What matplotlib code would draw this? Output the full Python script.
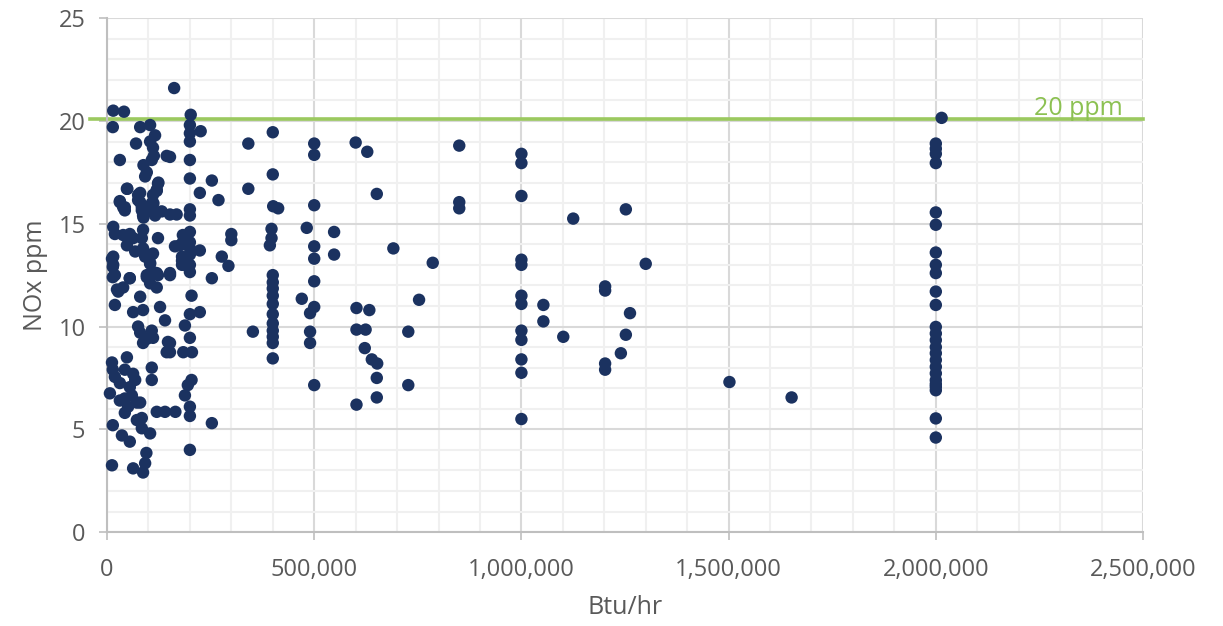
import matplotlib
matplotlib.use("Agg")
import matplotlib.pyplot as plt
from matplotlib.ticker import MultipleLocator, FuncFormatter

plt.rcParams['font.family'] = ['Open Sans', 'DejaVu Sans']

# Btu/hr (thousands) and NOx ppm
btu_k = [
    # 0 - 150k dense area
    15, 41, 14, 80, 104, 116, 70, 104, 111, 113, 144, 31, 108, 88, 96, 92,
    124, 49, 120, 31, 43, 75, 80, 84, 112, 112, 132, 152, 168, 88,
    123, 120, 111, 108, 104, 116, 80, 75, 84, 87, 31, 39, 43, 48,
    15, 19, 39, 55, 63, 48, 87, 84, 87, 68, 123, 108, 104, 15, 15, 19, 55, 96,
    111, 123, 152, 181, 181, 164,
    12, 14, 14, 55, 27, 39, 19, 80, 96, 120, 104, 120, 152, 92, 104, 111,
    24, 63, 87, 128, 140, 75, 80, 108, 96, 111, 87, 147, 144,
    12, 48, 14, 19, 43, 63, 68, 108, 108, 55, 31, 60,
    7, 43, 51, 80, 31, 72, 120, 140, 43, 72,
    14, 36, 55, 84, 84, 104, 12, 63, 95, 92, 87, 152, 152, 165,
    # 160k - 300k
    162, 202, 200, 226, 200, 200, 152, 200, 200, 253, 224, 269, 200, 200,
    183, 200, 176, 183, 200, 200, 224, 183, 200, 200, 181, 188,
    277, 293, 253, 200, 204, 200, 224, 188, 200, 184, 205, 204, 195, 188,
    200, 200, 253, 200, 300, 300,
    # 340k - 550k
    341, 341, 352, 400, 400, 401, 413, 397, 397, 393,
    400, 400, 400, 400, 400, 400, 400, 400, 400, 400, 400,
    500, 500, 500, 482, 548, 500, 548, 500, 500, 470, 500, 490, 490, 490, 500,
    # 600k - 800k
    600, 628, 651, 602, 633, 602, 624, 622, 639, 652, 651, 651, 602,
    691, 727, 727, 753, 786,
    # 850k - 1.3M
    850, 850, 850,
    1000, 1000, 1000, 1000, 1000, 1000, 1000, 1000, 1000, 1000, 1000, 1000,
    1053, 1053, 1101, 1125,
    1202, 1202, 1202, 1202, 1240, 1252, 1252, 1262, 1300,
    1502, 1652,
    # 2M column
    2014, 2000, 2000, 2000, 2000, 2000, 2000, 2000, 2000, 2000, 2000, 2000,
    2000, 2000, 2000, 2000, 2000, 2000, 2000, 2000, 2000, 2000, 2000, 2000,
    2000, 2000,
]

nox_ppm = [
    20.5, 20.45, 19.7, 19.7, 19.8, 19.3, 18.9, 19.0, 18.7, 18.3, 18.3, 18.1, 18.1, 17.85, 17.5, 17.3,
    17.0, 16.7, 16.6, 16.1, 15.8, 16.4, 16.05, 15.65, 16.0, 15.65, 15.6, 15.45, 15.45, 15.3,
    16.95, 16.65, 16.4, 16.0, 15.65, 15.4, 16.5, 16.15, 15.8, 15.4, 16.05, 15.8, 15.65, 16.7,
    14.85, 14.5, 14.45, 14.5, 14.3, 13.95, 14.7, 14.3, 13.8, 13.65, 14.3, 13.5, 13.05, 13.4, 13.0, 12.5, 12.35, 12.5,
    12.65, 12.5, 12.5, 13.0, 13.4, 13.9,
    13.3, 12.9, 12.4, 12.35, 11.7, 11.9, 11.05, 11.45, 12.4, 12.6, 12.1, 11.9, 12.6, 13.4, 13.1, 13.55,
    11.8, 10.7, 10.8, 10.95, 10.3, 10.0, 9.7, 9.8, 9.4, 9.45, 9.2, 9.25, 8.75,
    8.25, 8.5, 7.9, 7.55, 7.9, 7.7, 7.4, 8.0, 7.4, 7.05, 7.25, 6.65,
    6.75, 6.5, 6.1, 6.3, 6.4, 6.3, 5.85, 5.85, 5.8, 5.45,
    5.2, 4.7, 4.4, 5.55, 5.05, 4.8, 3.25, 3.1, 3.85, 3.35, 2.9, 9.2, 8.75, 5.85,
    21.6, 20.3, 19.8, 19.5, 19.4, 19.0, 18.25, 18.1, 17.2, 17.1, 16.5, 16.15, 15.7, 15.4,
    14.45, 14.6, 13.95, 14.1, 14.1, 13.8, 13.7, 13.3, 13.5, 13.0, 13.2, 13.0,
    13.4, 12.95, 12.35, 12.65, 11.5, 10.6, 10.7, 10.05, 9.45, 8.75, 8.75, 7.4, 7.15, 6.65,
    6.1, 5.65, 5.3, 4.0, 14.5, 14.2,
    18.9, 16.7, 9.75, 19.45, 17.4, 15.85, 15.75, 14.75, 14.3, 13.95,
    12.5, 12.15, 11.85, 11.5, 11.1, 10.6, 10.15, 9.8, 9.5, 9.2, 8.45,
    18.9, 18.35, 15.9, 14.8, 14.6, 13.9, 13.5, 13.3, 12.2, 11.35, 10.95, 10.65, 9.75, 9.2, 7.15,
    18.95, 18.5, 16.45, 10.9, 10.8, 9.85, 9.85, 8.95, 8.4, 8.2, 7.5, 6.55, 6.2,
    13.8, 9.75, 7.15, 11.3, 13.1,
    18.8, 16.05, 15.75,
    18.4, 17.95, 16.35, 13.25, 13.0, 11.5, 11.1, 9.8, 9.35, 8.4, 7.75, 5.5,
    11.05, 10.25, 9.5, 15.25,
    11.95, 11.75, 8.2, 7.9, 8.7, 15.7, 9.6, 10.65, 13.05,
    7.3, 6.55,
    20.15, 18.9, 18.65, 18.4, 17.95, 15.55, 14.95, 13.6, 13.0, 12.6, 11.7, 11.05,
    9.98, 9.66, 9.34, 9.0, 8.7, 8.37, 8.04, 7.72, 7.39, 7.07, 6.9, 7.2,
    5.53, 4.6,
]

limit_ppm = 20.1
limit_label = "20 ppm"
x_label = "Btu/hr"
y_label = "NOx ppm"

btu = [v * 1000 for v in btu_k]

fig = plt.figure(figsize=(12.23, 6.26), dpi=100)
ax = fig.add_axes([0.0875, 0.150, 0.8471, 0.821])

ax.set_xlim(0, 2_500_000)
ax.set_ylim(0, 25)
ax.xaxis.set_major_locator(MultipleLocator(500_000))
ax.xaxis.set_minor_locator(MultipleLocator(100_000))
ax.yaxis.set_major_locator(MultipleLocator(5))
ax.yaxis.set_minor_locator(MultipleLocator(1))
ax.xaxis.set_major_formatter(FuncFormatter(lambda v, p: f"{int(v):,}"))

ax.grid(which='minor', color='#f0f0f0', linewidth=1.5, zorder=0)
ax.grid(which='major', color='#d9d9d9', linewidth=1.5, zorder=0)
ax.set_axisbelow(True)

for s in ['top', 'right']:
    ax.spines[s].set_visible(False)
for s in ['left', 'bottom']:
    ax.spines[s].set_color('#bfbfbf')
    ax.spines[s].set_linewidth(1.5)

ax.tick_params(which='major', length=5.5, width=1.2, color='#bfbfbf',
               labelcolor='#595959', labelsize=17)
ax.tick_params(axis='x', which='major', pad=13)
ax.tick_params(axis='y', which='major', pad=10)
ax.tick_params(which='minor', length=0)

ax.plot([-40_000, 2_500_000], [limit_ppm, limit_ppm], color='#9bc95f',
        linewidth=2.6, clip_on=False, zorder=2)
ax.text(2_452_000, limit_ppm - 0.1, limit_label, color='#8cc152',
        fontsize=18, ha='right', va='bottom', zorder=3)

ax.scatter(btu, nox_ppm, s=80, color='#1b3260', edgecolors='none', zorder=4,
           clip_on=False)

ax.set_xlabel(x_label, fontsize=18, color='#595959')
ax.set_ylabel(y_label, fontsize=18, color='#595959')
ax.xaxis.label.set_va('center')
ax.yaxis.label.set_va('center')
ax.xaxis.set_label_coords(0.5, -0.146)
ax.yaxis.set_label_coords(-0.0695, 0.5)

fig.savefig('out.png', dpi=100)
